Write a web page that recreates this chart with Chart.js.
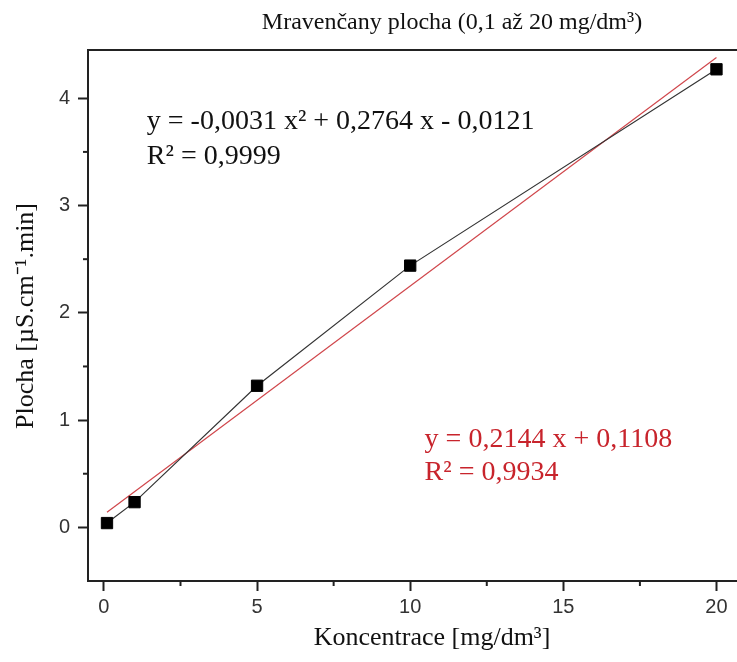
<!DOCTYPE html>
<html>
<head>
<meta charset="utf-8">
<script src="https://cdn.jsdelivr.net/npm/chart.js@4/dist/chart.umd.min.js"></script>
<style>
  html, body { margin: 0; padding: 0; background: #fff; overflow: hidden; }
  #wrap { width: 737px; height: 662px; }
</style>
</head>
<body>
<div id="wrap"><canvas id="chart"></canvas></div>
<script>
// namerene body
const koncentrace = [0.1, 1, 5, 10, 20];
const plocha = [0.04, 0.235, 1.32, 2.44, 4.27];

// linearni fit - krajni body
const fitX = [0.1, 20];
const fitY = [0.14, 4.38];

const xTicks = [0, 5, 10, 15, 20];
const yTicks = [0, 1, 2, 3, 4];

const serif = '"Liberation Serif", "Times New Roman", serif';
const sans = '"Liberation Sans", Arial, sans-serif';

// popisky, minor ticky a horni ramecek
const decor = {
    id: 'decor',
    afterDraw(chart) {
        const ctx = chart.ctx;
        const a = chart.chartArea;
        const xs = chart.scales.x;
        const ys = chart.scales.y;
        ctx.save();

        // horni cara ramecku
        ctx.strokeStyle = '#222';
        ctx.lineWidth = 2;
        ctx.beginPath();
        ctx.moveTo(a.left, a.top);
        ctx.lineTo(a.right, a.top);
        ctx.stroke();

        // minor ticky
        [2.5, 7.5, 12.5, 17.5].forEach(v => {
            const px = xs.getPixelForValue(v);
            ctx.beginPath();
            ctx.moveTo(px, a.bottom);
            ctx.lineTo(px, a.bottom + 5);
            ctx.stroke();
        });
        [-0.5, 0.5, 1.5, 2.5, 3.5].forEach(v => {
            const py = ys.getPixelForValue(v);
            if (py > a.bottom - 1) return;
            ctx.beginPath();
            ctx.moveTo(a.left, py);
            ctx.lineTo(a.left - 5, py);
            ctx.stroke();
        });

        // nadpis
        ctx.fillStyle = '#111';
        ctx.textBaseline = 'middle';
        ctx.textAlign = 'center';
        ctx.font = '24px ' + serif;
        ctx.fillText('Mravenčany plocha (0,1 až 20 mg/dm³)', 452, 23);

        // osa x
        ctx.font = '26px ' + serif;
        ctx.fillText('Koncentrace [mg/dm³]', 432, 638);

        // osa y
        ctx.save();
        ctx.translate(26, 316);
        ctx.rotate(-Math.PI / 2);
        ctx.fillText('Plocha [µS.cm⁻¹.min]', 0, 0);
        ctx.restore();

        // rovnice
        ctx.textAlign = 'left';
        ctx.font = '28px ' + serif;
        ctx.fillStyle = '#111';
        ctx.fillText('y = -0,0031 x² + 0,2764 x - 0,0121', xs.getPixelForValue(1.4), ys.getPixelForValue(3.78));
        ctx.fillText('R² = 0,9999', xs.getPixelForValue(1.4), ys.getPixelForValue(3.46));
        ctx.fillStyle = '#c8242c';
        ctx.fillText('y = 0,2144 x + 0,1108', xs.getPixelForValue(10.47), ys.getPixelForValue(0.82));
        ctx.fillText('R² = 0,9934', xs.getPixelForValue(10.47), ys.getPixelForValue(0.51));

        ctx.restore();
    }
};

new Chart(document.getElementById('chart'), {
    type: 'scatter',
    data: {
        datasets: [
            {
                label: 'fit',
                data: fitX.map((x, i) => ({ x: x, y: fitY[i] })),
                showLine: true,
                borderColor: '#d0474c',
                borderWidth: 1.2,
                pointRadius: 0,
                order: 2
            },
            {
                label: 'plocha',
                data: koncentrace.map((x, i) => ({ x: x, y: plocha[i] })),
                showLine: true,
                borderColor: '#333',
                borderWidth: 1.2,
                pointStyle: 'rect',
                pointRadius: 8,
                pointBackgroundColor: '#000',
                pointBorderColor: '#000',
                pointBorderWidth: 1,
                order: 1
            }
        ]
    },
    options: {
        responsive: true,
        maintainAspectRatio: false,
        animation: false,
        events: [],
        layout: { autoPadding: false, padding: { top: 50, left: 0, right: 0, bottom: 0 } },
        plugins: {
            legend: { display: false },
            tooltip: { enabled: false }
        },
        scales: {
            x: {
                type: 'linear',
                min: -0.52,
                max: 20.67,
                afterFit: s => { s.height = 81; s.paddingLeft = 0; s.paddingRight = 0; },
                afterBuildTicks: s => { s.ticks = xTicks.map(v => ({ value: v })); },
                border: { color: '#222', width: 2 },
                grid: { drawOnChartArea: false, tickLength: 10, tickWidth: 2, tickColor: '#222' },
                ticks: { padding: 4, color: '#333', font: { family: sans, size: 20 } }
            },
            y: {
                type: 'linear',
                min: -0.5,
                max: 4.45,
                afterFit: s => { s.width = 88; s.paddingTop = 0; s.paddingBottom = 0; },
                afterBuildTicks: s => { s.ticks = yTicks.map(v => ({ value: v })); },
                border: { color: '#222', width: 2 },
                grid: { drawOnChartArea: false, tickLength: 10, tickWidth: 2, tickColor: '#222' },
                ticks: { padding: 8, color: '#333', font: { family: sans, size: 20 } }
            }
        }
    },
    plugins: [decor]
});
</script>
</body>
</html>
